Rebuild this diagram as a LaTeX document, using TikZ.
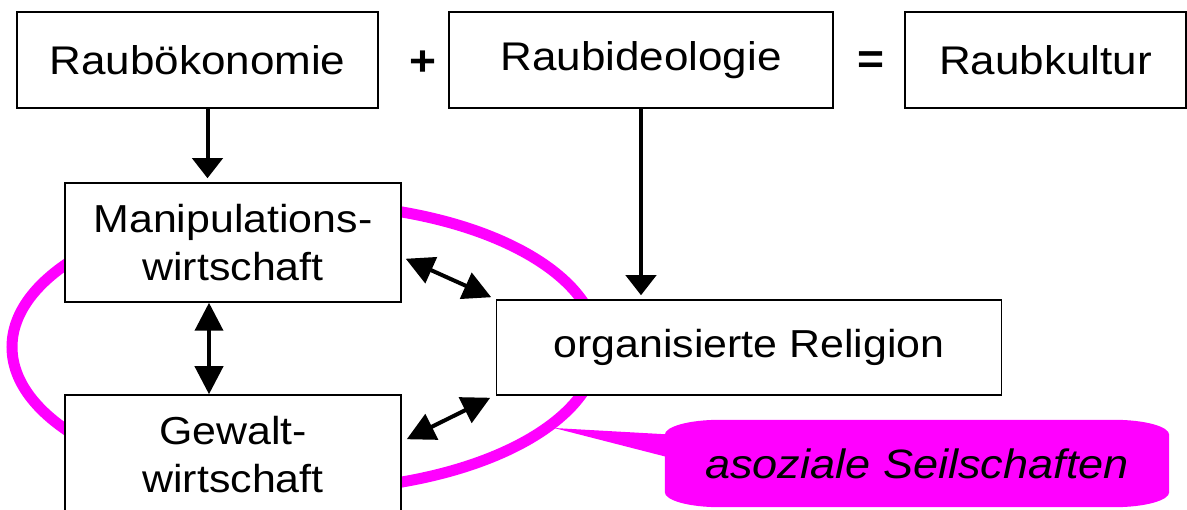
\documentclass[tikz,border=0pt]{standalone}
\usepackage{fontspec}
\setmainfont{Liberation Sans}[FakeStretch=1.1]
\usetikzlibrary{arrows.meta}
\definecolor{seilmagenta}{RGB}{255,0,255}
\pgfdeclarelayer{background}
\pgfsetlayers{background,main}

\begin{document}
\begin{tikzpicture}[x=1pt, y=-1pt,
    box/.style={draw, line width=1.5pt, fill=white, inner sep=0pt, align=center,
      font=\fontsize{39}{48}\selectfont},
    topbox/.style={box, minimum height=96pt, font=\fontsize{40}{48}\selectfont},
    arr/.style={line width=4pt, shorten >=4pt, -{Triangle[length=20pt,width=30pt]}},
    dbl/.style={line width=4pt, {Triangle[length=28pt,width=28pt]}-{Triangle[length=28pt,width=28pt]}},
    seil/.style={seilmagenta, line width=11pt},
    ecke/.style={x radius=55pt, y radius=15pt}]
  \useasboundingbox (0,0) rectangle (1187,510);

  % Seilschaft
  \draw[seil] (305,347) ellipse [x radius=293pt, y radius=143pt];

  \node[topbox, minimum width=361pt] (rauboek) at (197.5,60) {Raubökonomie};
  \node[font=\fontsize{42}{48}\selectfont\bfseries] (plus) at (423,63) {+};
  \node[topbox, minimum width=384pt] (raubideo) at (641,60) {Raubideologie};
  \node[font=\fontsize{42}{48}\selectfont\bfseries] (gleich) at (871,63) {=};
  \node[topbox, minimum width=281pt] (raubkult) at (1045.5,60) {Raubkultur};

  \node[box, minimum width=336pt, minimum height=119pt] (manip) at (233,242.5) {Manipulations-\\wirtschaft};
  \node[box, minimum width=336pt, minimum height=119pt] (gewalt) at (233,454.5) {Gewalt-\\wirtschaft};
  \node[box, minimum width=505pt, minimum height=95pt] (org) at (749,347.5) {organisierte Religion};

  \draw[arr] ([xshift=10pt]rauboek.south) -- ([xshift=10pt]rauboek.south |- manip.north);
  \draw[arr] (raubideo.south) -- (raubideo.south |- org.north);
  \draw[dbl] ([xshift=-24pt]manip.south) -- ([xshift=-24pt]manip.south |- gewalt.north);
  \draw[dbl] ([xshift=4pt,yshift=44pt]manip.south east) -- ([xshift=-4.5pt,yshift=2pt]org.north west);
  \draw[dbl] ([xshift=5pt,yshift=-45pt]gewalt.north east) -- ([xshift=-5.5pt,yshift=-2pt]org.south west);

  % Sprechblase
  \coordinate (seiltip) at (554,428);
  \node[minimum width=504pt, minimum height=87pt, inner sep=0pt,
    font=\fontsize{41}{48}\selectfont\itshape] (seilschaft) at (917,463.5) {asoziale Seilschaften};
  \begin{pgfonlayer}{background}
    \fill[seilmagenta] ([yshift=-15pt]seilschaft.north west) arc[start angle=180, end angle=90, ecke]
      -- ([xshift=-55pt]seilschaft.north east) arc[start angle=90, end angle=0, ecke]
      -- ([yshift=15pt]seilschaft.south east) arc[start angle=0, end angle=-90, ecke]
      -- ([xshift=55pt]seilschaft.south west) arc[start angle=270, end angle=180, ecke]
      -- cycle;
    \fill[seilmagenta] (seiltip) -- ([xshift=14pt,yshift=28.5pt]seilschaft.west)
      -- ([xshift=14pt,yshift=3.5pt]seilschaft.west) -- cycle;
  \end{pgfonlayer}
\end{tikzpicture}
\end{document}
